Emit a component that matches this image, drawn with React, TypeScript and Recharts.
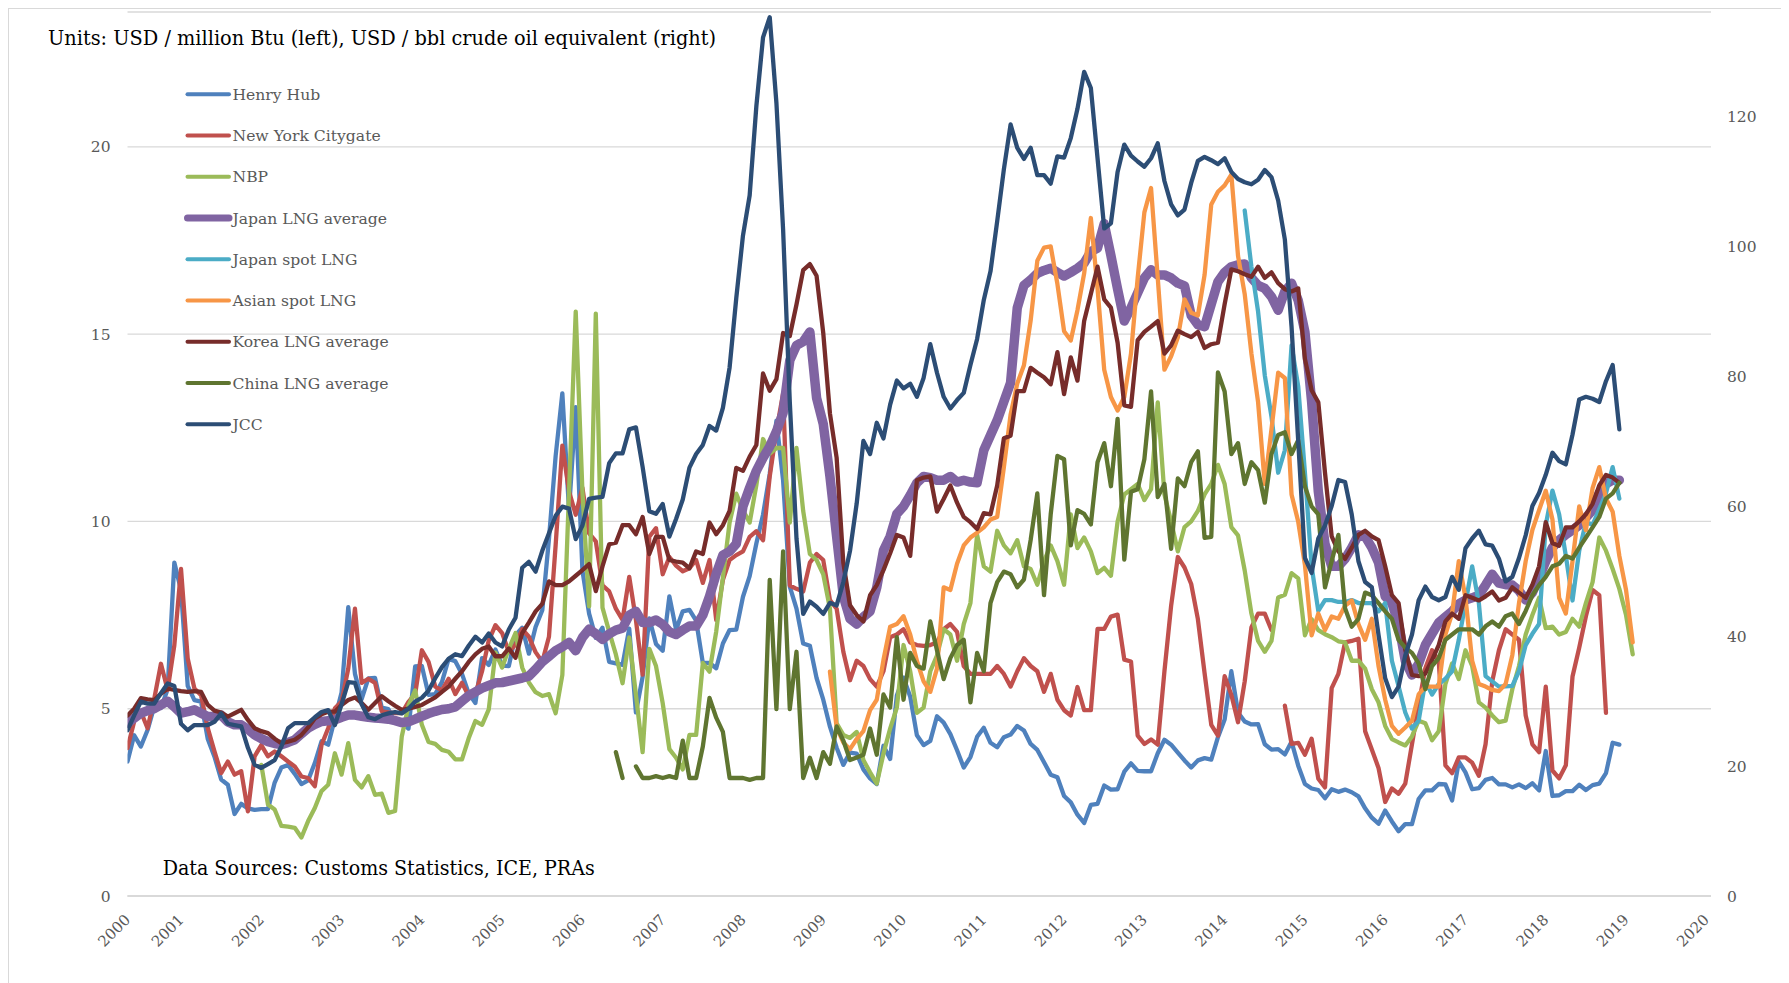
import React from "react";
import { LineChart, Line, XAxis, YAxis, CartesianGrid } from "recharts";

const FONT = "'DejaVu Serif', serif";

// x values are month indexes: 0 = Jan 2000, 4 = May 2000 (first data month)
const yearTickMonths = [4, 12, 24, 36, 48, 60, 72, 84, 96, 108, 120, 132, 144, 156, 168, 180, 192, 204, 216, 228, 240];
const yearTickLabels = ["2000", "2001", "2002", "2003", "2004", "2005", "2006", "2007", "2008", "2009", "2010", "2011", "2012", "2013", "2014", "2015", "2016", "2017", "2018", "2019", "2020"];
const leftTicks = [0, 5, 10, 15, 20];
const rightTicks = [0, 20, 40, 60, 80, 100, 120];

// USD / million Btu, from May 2000
const henryHub = [
  3.59, 4.29, 3.99, 4.43, 5.06, 5.02, 5.52, 8.9,
  8.17, 5.61, 5.23, 5.19, 4.19, 3.72, 3.11, 2.97, 2.19, 2.46, 2.34, 2.3,
  2.32, 2.32, 3.03, 3.43, 3.5, 3.26, 2.99, 3.09, 3.55, 4.13, 4.04, 4.74,
  5.43, 7.71, 5.93, 5.26, 5.81, 5.82, 5.03, 4.99, 4.62, 4.63, 4.47, 6.13,
  6.14, 5.37, 5.39, 5.71, 6.33, 6.27, 5.93, 5.41, 5.15, 6.35, 6.17, 6.58,
  6.15, 6.14, 6.96, 7.16, 6.47, 7.18, 7.63, 9.53, 11.75, 13.42, 10.3, 13.05,
  8.69, 7.54, 6.89, 7.16, 6.25, 6.21, 6.17, 7.14, 4.9, 5.85, 7.41, 6.73,
  6.55, 8.0, 7.11, 7.6, 7.64, 7.35, 6.22, 6.22, 6.08, 6.74, 7.1, 7.11,
  7.99, 8.54, 9.41, 10.18, 11.27, 12.69, 11.09, 8.26, 7.67, 6.74, 6.68, 5.82,
  5.24, 4.52, 3.96, 3.5, 3.83, 3.8, 3.38, 3.14, 2.99, 4.01, 3.66, 5.35,
  5.83, 5.32, 4.29, 4.03, 4.14, 4.8, 4.63, 4.32, 3.89, 3.43, 3.71, 4.25,
  4.49, 4.09, 3.97, 4.24, 4.31, 4.54, 4.42, 4.06, 3.9, 3.57, 3.24, 3.17,
  2.67, 2.5, 2.17, 1.95, 2.43, 2.46, 2.95, 2.84, 2.85, 3.32, 3.54, 3.34,
  3.33, 3.33, 3.81, 4.17, 4.04, 3.83, 3.62, 3.43, 3.62, 3.68, 3.64, 4.24,
  4.71, 6.0, 4.9, 4.66, 4.58, 4.59, 4.05, 3.91, 3.92, 3.78, 4.12, 3.48,
  2.99, 2.87, 2.83, 2.61, 2.85, 2.78, 2.84, 2.77, 2.66, 2.34, 2.09, 1.93,
  2.28, 1.99, 1.73, 1.92, 1.92, 2.59, 2.82, 2.82, 2.99, 2.98, 2.55, 3.59,
  3.3, 2.85, 2.88, 3.1, 3.15, 2.98, 2.98, 2.9, 2.98, 2.88, 3.01, 2.82,
  3.87, 2.67, 2.69, 2.8, 2.8, 2.97, 2.83, 2.96, 3.0, 3.28, 4.09, 4.04,
];

// from May 2000
const newYorkCitygate = [
  3.95, 4.66, 4.92, 4.48, 5.27, 6.2, 5.5, 6.69,
  8.73, 6.34, 5.54, 5.36, 4.48, 3.86, 3.28, 3.59, 3.24, 3.33, 2.26, 3.73,
  4.03, 3.73, 3.86, 3.73, 3.59, 3.46, 3.19, 3.15, 2.93, 4.03, 4.48, 5.01,
  5.19, 6.07, 7.67, 5.69, 5.8, 5.69, 4.93, 4.9, 4.88, 4.88, 5.18, 5.39,
  6.56, 6.25, 5.59, 5.49, 5.8, 5.39, 5.69, 5.34, 5.39, 6.0, 6.82, 7.23,
  7.02, 6.51, 6.71, 7.12, 6.92, 6.51, 6.25, 6.92, 9.37, 12.02, 10.8, 10.18,
  10.9, 9.68, 9.47, 8.29, 8.13, 7.67, 7.37, 8.52, 7.37, 5.91, 9.59, 9.82,
  8.59, 9.05, 8.82, 8.67, 8.75, 8.97, 8.36, 8.97, 7.37, 8.44, 8.97, 9.1,
  9.2, 9.59, 9.74, 9.5, 11.2, 12.42, 13.42, 8.29, 8.2, 8.13, 8.9, 9.13,
  8.97, 7.9, 7.67, 6.52, 5.76, 6.28, 6.14, 5.79, 5.59, 6.0, 6.91, 6.98,
  7.12, 6.77, 6.7, 6.68, 6.7, 6.77, 7.12, 7.26, 7.05, 6.14, 5.93, 5.93,
  5.93, 5.93, 6.14, 5.93, 5.59, 6.0, 6.35, 6.14, 6.0, 5.45, 5.93, 5.24,
  4.96, 4.82, 5.58, 4.96, 4.96, 7.13, 7.13, 7.46, 7.51, 6.31, 6.26, 4.28,
  4.06, 4.18, 4.04, 6.0, 7.75, 9.05, 8.77, 8.33, 7.39, 5.95, 4.57, 4.28,
  5.87, 5.37, 4.64, 5.73, 7.17, 7.54, 7.54, 7.1, null, 5.08, 4.06, 4.09,
  3.77, 4.2, 3.13, 2.9, 5.55, 5.93, 6.77, 6.81, 6.87, 4.4, 3.91, 3.42,
  2.51, 2.87, 2.73, 3.0, 4.05, 5.1, 6.08, 6.56, 6.28, 3.49, 3.28, 3.7,
  3.7, 3.56, 3.21, 4.05, 5.73, 6.56, 7.12, 6.98, 6.84, 4.82, 4.05, 3.84,
  5.59, 3.35, 3.14, 3.49, 5.86, 6.63, 7.47, 8.17, 8.03, 4.89,
];

// from Jan 2002
const nbp = [
  3.5, 2.44, 2.31, 1.87, 1.85, 1.82, 1.56, 2.0, 2.35, 2.8, 2.97, 3.81,
  3.24, 4.08, 3.1, 2.9, 3.2, 2.7, 2.73, 2.22, 2.27, 4.26, 5.08, 5.49,
  4.57, 4.11, 4.06, 3.9, 3.85, 3.65, 3.65, 4.21, 4.67, 4.57, 4.98, 6.5,
  6.1, 6.6, 7.02, 6.1, 5.7, 5.44, 5.34, 5.39, 4.88, 5.9, 10.8, 15.6,
  10.8, 7.73, 15.55, 7.7, 7.06, 6.45, 5.68, 6.9, 5.37, 3.84, 6.6, 6.14,
  5.15, 3.92, 3.69, 3.38, 4.3, 4.3, 6.22, 5.99, 7.06, 8.5, 9.97, 10.74,
  10.3, 9.97, 10.97, 12.2, 11.81, 11.96, 11.96, 9.97, 11.96, 10.28, 9.13, 8.97,
  8.59, 7.67, 4.61, 4.3, 4.22, 4.38, 3.63, 3.3, 3.0, 3.8, 4.47, 5.03,
  6.7, 6.0, 4.89, 5.03, 6.0, 6.42, 7.12, 6.98, 6.28, 7.26, 7.82, 9.64,
  8.8, 8.66, 9.75, 9.36, 9.15, 9.5, 8.8, 8.73, 8.31, 8.94, 9.36, 8.94,
  8.31, 10.19, 9.29, 9.57, 9.2, 8.62, 8.76, 8.55, 10.0, 10.72, 10.86, 11.0,
  10.57, 10.86, 13.18, 10.72, 10.0, 9.2, 9.85, 10.0, 10.28, 10.72, 11.0, 11.51,
  11.0, 9.85, 9.63, 8.69, 7.54, 6.81, 6.52, 6.81, 7.97, 8.04, 8.62, 8.48,
  6.96, 7.39, 7.1, 6.99, 6.91, 6.8, 6.77, 6.28, 6.28, 6.07, 5.52, 5.17,
  4.54, 4.19, 4.1, 4.02, 4.26, 4.68, 4.61, 4.16, 4.4, 5.66, 6.21, 5.79,
  6.56, 6.14, 5.17, 5.03, 4.82, 4.64, 4.68, 5.52, 6.14, 6.98, 7.5, 7.96,
  7.15, 7.19, 6.98, 7.05, 7.4, 7.19, 7.82, 8.38, 9.57, 9.22, 8.73, 8.2,
  7.5, 6.45,
];

// from May 2000
const japanLngAverage = [
  4.61, 4.75, 4.88, 4.95, 5.0, 5.1, 5.2, 5.05,
  4.88, 4.92, 4.97, 4.88, 4.79, 4.8, 4.83, 4.65, 4.57, 4.57, 4.45, 4.3,
  4.2, 4.12, 4.07, 4.04, 4.1, 4.17, 4.33, 4.48, 4.58, 4.66, 4.68, 4.7,
  4.77, 4.83, 4.83, 4.8, 4.77, 4.75, 4.74, 4.72, 4.68, 4.63, 4.65, 4.72,
  4.8, 4.87, 4.93, 4.98, 5.0, 5.05, 5.2, 5.35, 5.45, 5.55, 5.62, 5.69,
  5.7, 5.74, 5.78, 5.82, 5.87, 6.05, 6.25, 6.4, 6.55, 6.65, 6.77, 6.55,
  6.9, 7.12, 7.0, 6.85, 7.0, 7.1, 7.15, 7.5, 7.6, 7.3, 7.3, 7.37,
  7.25, 7.05, 6.98, 7.1, 7.21, 7.21, 7.5, 8.0, 8.6, 9.1, 9.2, 9.4,
  10.4, 10.9, 11.35, 11.7, 12.0, 12.4, 12.9, 14.3, 14.7, 14.8, 15.06, 13.3,
  12.6, 11.2, 9.6, 8.0, 7.4, 7.26, 7.45, 7.6, 8.24, 9.22, 9.6, 10.2,
  10.4, 10.7, 11.03, 11.2, 11.17, 11.1, 11.1, 11.2, 11.05, 11.1, 11.05, 11.03,
  11.9, 12.3, 12.7, 13.2, 13.7, 15.7, 16.3, 16.45, 16.62, 16.7, 16.76, 16.65,
  16.55, 16.65, 16.76, 16.9, 17.2, 17.3, 17.95, 17.1, 16.2, 15.35, 15.7, 16.1,
  16.5, 16.72, 16.58, 16.58, 16.5, 16.36, 16.29, 15.5, 15.25, 15.2, 15.8, 16.4,
  16.65, 16.8, 16.85, 16.87, 16.5, 16.3, 16.22, 16.0, 15.64, 16.14, 16.36, 15.9,
  15.06, 13.2, 10.8, 9.4, 8.8, 8.8, 9.0, 9.3, 9.64, 9.6, 9.3, 8.9,
  8.0, 7.82, 7.26, 6.28, 5.9, 6.2, 6.7, 7.0, 7.3, 7.45, 7.6, 7.8,
  7.9, 7.96, 8.03, 8.3, 8.59, 8.35, 8.31, 8.3, 8.15, 7.9, 8.1, 8.5,
  8.94, 9.3, 9.5, 9.65, 9.77, 9.9, 10.1, 10.3, 10.75, 11.0, 11.1, 11.1,
];

// from Apr 2014
const japanSpotLng = [
  18.3, 16.8, 15.6, 13.9, 12.8, 11.3, 11.9, 14.7, 13.6,
  11.3, 8.8, 7.61, 7.9, 7.9, 7.85, 7.85, 7.9, 7.82, 7.82, 7.82, 7.6,
  7.82, 6.28, 5.6, 4.9, 4.47, 4.68, 5.73, 5.38, 5.66, 5.8, 6.0, 6.84,
  7.82, 8.8, 7.82, 5.87, 5.73, 5.59, 5.6, 5.61, 6.0, 6.7, 7.0, 7.26,
  9.91, 10.82, 10.19, 9.08, 7.89, 9.22, 9.98, 9.91, 10.33, 10.75, 11.45, 10.61,
];

// from Feb 2009
const asianSpotLng = [
  5.99, 4.5, 4.1, 3.92, 4.19, 4.4, 4.96, 5.24, 6.3, 7.19, 7.26,
  7.47, 6.98, 6.28, 5.73, 5.45, 6.07, 8.24, 8.17, 8.87, 9.36, 9.57, 9.7,
  9.84, 10.05, 10.12, 11.45, 12.85, 13.68, 14.17, 15.36, 16.96, 17.31, 17.34, 16.34,
  15.08, 14.83, 15.64, 16.62, 18.1, 16.22, 14.05, 13.32, 12.96, 13.32, 14.48, 16.5,
  18.25, 18.9, 16.5, 14.05, 14.41, 14.91, 15.93, 15.57, 15.5, 16.58, 18.46, 18.8,
  18.97, 19.26, 17.09, 16.07, 14.48, 13.18, 11.0, 12.46, 13.97, 13.83, 10.72, 9.99,
  8.84, 6.96, 7.54, 7.1, 7.46, 7.4, 7.75, 7.89, 7.26, 6.84, 7.4, 6.14,
  5.24, 4.54, 4.33, 4.5, 4.68, 5.38, 5.59, 5.59, 5.59, 6.98, 7.54, 8.94,
  7.96, 6.28, 5.66, 5.59, 5.5, 5.47, 5.66, 6.43, 7.82, 8.94, 9.77, 10.3,
  10.82, 10.05, 7.96, 7.54, 8.94, 10.4, 9.77, 10.89, 11.45, 10.61, 10.26, 9.08,
  8.17, 6.77,
];

// from May 2000
const koreaLngAverage = [
  4.82, 5.0, 5.28, 5.25, 5.23, 5.4, 5.54, 5.5,
  5.47, 5.45, 5.47, 5.45, 5.1, 4.95, 4.9, 4.79, 4.88, 4.97, 4.7, 4.48,
  4.4, 4.35, 4.2, 4.08, 4.12, 4.17, 4.3, 4.5, 4.74, 4.85, 4.92, 4.92,
  5.1, 5.23, 5.3, 5.15, 4.97, 5.15, 5.33, 5.2, 5.08, 4.97, 5.0, 5.05,
  5.1, 5.2, 5.3, 5.45, 5.59, 5.8, 6.0, 6.25, 6.45, 6.6, 6.66, 6.4,
  6.4, 6.61, 6.36, 7.02, 7.3, 7.6, 7.8, 8.4, 8.3, 8.3, 8.4, 8.55,
  8.7, 8.86, 8.14, 8.8, 9.39, 9.43, 9.9, 9.9, 9.66, 10.12, 9.13, 9.59,
  9.59, 8.97, 8.93, 8.9, 8.75, 9.2, 9.13, 9.97, 9.66, 9.9, 10.28, 11.43,
  11.35, 11.73, 12.04, 13.95, 13.49, 13.8, 15.03, 14.95, 15.79, 16.71, 16.87, 16.56,
  15.03, 12.88, 11.7, 8.9, 7.76, 7.5, 7.33, 8.03, 8.3, 8.7, 9.15, 9.64,
  9.57, 9.08, 11.1, 11.17, 11.2, 10.26, 10.6, 10.96, 10.5, 10.12, 9.98, 9.8,
  10.22, 10.19, 10.96, 12.22, 12.29, 13.48, 13.48, 14.1, 13.97, 13.85, 13.66, 14.52,
  13.4, 14.38, 13.76, 15.35, 16.07, 16.8, 15.93, 15.71, 14.77, 13.1, 13.06, 14.84,
  15.06, 15.2, 15.35, 14.48, 14.7, 15.09, 15.0, 14.92, 15.06, 14.63, 14.73, 14.77,
  15.8, 16.73, 16.68, 16.6, 16.53, 16.8, 16.5, 16.65, 16.36, 16.2, 16.14, 16.22,
  14.34, 13.5, 13.18, 11.3, 9.6, 9.2, 9.0, 9.3, 9.64, 9.75, 9.6, 9.5,
  8.8, 8.03, 7.82, 6.57, 5.9, 5.87, 5.94, 6.3, 6.7, 7.33, 7.54, 7.4,
  8.03, 7.96, 7.89, 8.0, 8.13, 7.89, 7.96, 8.24, 8.1, 7.96, 8.31, 8.8,
  9.98, 9.42, 9.35, 9.84, 9.84, 10.0, 10.19, 10.47, 10.96, 11.24, 11.17, 11.03,
];

// from Jun 2006
const chinaLngAverage = [
  3.84, 3.15, null, 3.46, 3.15, 3.15, 3.2,
  3.15, 3.2, 3.15, 4.15, 3.15, 3.15, 3.99, 5.29, 4.76, 4.38, 3.15, 3.15,
  3.15, 3.1, 3.15, 3.15, 8.44, 4.99, 9.2, 4.99, 6.52, 3.15, 3.69, 3.15,
  3.84, 3.53, 4.53, 4.15, 3.63, 3.7, 3.77, 4.47, 3.77, 5.38, 5.03, 6.91,
  5.24, 6.49, 6.14, 6.07, 7.33, 6.56, 5.79, 6.35, 6.7, 6.84, 5.17, 6.49,
  6.0, 7.82, 8.38, 8.66, 8.59, 8.24, 8.45, 9.5, 10.75, 8.03, 10.19, 11.75,
  11.66, 9.36, 10.3, 10.2, 9.92, 11.58, 12.09, 10.94, 12.74, 8.98, 10.79, 10.86,
  11.66, 13.47, 10.65, 11.0, 9.27, 11.15, 10.94, 11.58, 11.87, 9.56, 9.59, 13.98,
  13.47, 11.8, 12.09, 11.0, 11.58, 11.37, 10.5, 11.8, 12.31, 12.38, 11.8, 12.17,
  10.94, 10.4, 10.19, 8.24, 8.94, 9.64, 7.68, 7.19, 7.4, 8.1, 8.03, 7.82,
  7.6, 7.4, 6.84, 6.63, 6.49, 6.21, 5.52, 6.14, 6.35, 6.84, 6.98, 7.12,
  7.12, 7.12, 6.98, 7.2, 7.33, 7.19, 7.47, 7.54, 7.26, 7.61, 8.03, 8.3,
  8.52, 8.8, 8.87, 9.08, 9.01, 9.3, 9.57, 9.84, 10.12, 10.61, 10.75, 11.03,
];

// USD / bbl, from May 2000
const jcc = [
  25.5, 27.8, 29.9, 29.6, 29.6, 31.2, 32.7, 32.3,
  26.5, 25.5, 26.3, 26.3, 26.3, 26.8, 28.1, 26.5, 26.3, 26.1, 22.8, 20.2,
  19.7, 20.3, 20.9, 23.0, 25.8, 26.6, 26.6, 26.6, 27.5, 28.3, 28.6, 26.3,
  29.5, 32.9, 32.8, 29.5, 27.5, 27.2, 27.8, 28.1, 28.3, 28.1, 28.8, 29.9,
  30.5, 31.6, 33.5, 35.2, 36.5, 37.2, 36.9, 38.5, 39.9, 39.0, 40.4, 39.0,
  38.4, 41.0, 42.8, 50.5, 51.4, 49.9, 53.1, 55.8, 58.5, 59.9, 59.6, 54.9,
  57.0, 61.1, 61.3, 61.4, 66.6, 68.1, 68.1, 71.8, 72.1, 66.0, 59.2, 58.8,
  60.3, 55.3, 58.0, 61.0, 65.9, 68.0, 69.4, 72.3, 71.6, 75.1, 81.3, 92.0,
  101.6, 107.8, 121.5, 132.1, 135.2, 122.0, 102.5, 76.0, 55.0, 43.4, 45.3, 44.5,
  43.4, 45.1, 44.7, 48.3, 53.1, 60.4, 70.0, 68.0, 72.8, 70.4, 75.6, 79.3,
  78.1, 78.8, 76.8, 79.7, 84.9, 80.5, 76.8, 75.0, 76.3, 77.4, 81.7, 85.7,
  91.7, 96.1, 103.8, 111.8, 118.7, 115.1, 113.4, 115.1, 110.9, 110.9, 109.6, 113.8,
  113.6, 116.6, 121.1, 126.8, 124.3, 113.5, 102.7, 103.5, 111.4, 115.6, 113.9, 113.0,
  112.2, 113.5, 115.8, 110.0, 106.4, 104.7, 105.6, 109.7, 113.1, 113.7, 113.2, 112.6,
  113.5, 111.4, 110.3, 109.8, 109.5, 110.2, 111.7, 110.6, 107.0, 101.0, 87.6, 70.0,
  52.0, 49.7, 55.0, 57.0, 60.0, 64.0, 63.7, 58.7, 51.5, 48.3, 47.5, 40.2,
  33.5, 30.6, 32.2, 37.0, 40.2, 45.5, 47.6, 46.0, 45.5, 46.0, 49.1, 47.1,
  53.5, 55.0, 56.2, 54.1, 53.9, 51.9, 48.4, 49.1, 52.0, 55.5, 60.0, 62.0,
  64.8, 68.2, 66.9, 66.4, 71.0, 76.4, 76.8, 76.5, 76.0, 79.2, 81.7, 71.8,
];

type Series = {
  key: string;
  name: string;
  color: string;
  start: number;
  values: (number | null)[];
  width: number;
  legendWidth: number;
  axis: "left" | "right";
};

const seriesList: Series[] = [
  { key: "hh", name: "Henry Hub", color: "#4F81BD", start: 4, values: henryHub, width: 4.3, legendWidth: 4, axis: "left" },
  { key: "nyc", name: "New York Citygate", color: "#C0504D", start: 4, values: newYorkCitygate, width: 4.3, legendWidth: 4, axis: "left" },
  { key: "nbp", name: "NBP", color: "#9BBB59", start: 24, values: nbp, width: 4.3, legendWidth: 4, axis: "left" },
  { key: "jpavg", name: "Japan LNG average", color: "#8064A2", start: 4, values: japanLngAverage, width: 9.5, legendWidth: 7, axis: "left" },
  { key: "jpspot", name: "Japan spot LNG", color: "#4BACC6", start: 171, values: japanSpotLng, width: 4.3, legendWidth: 4, axis: "left" },
  { key: "asia", name: "Asian spot LNG", color: "#F79646", start: 109, values: asianSpotLng, width: 4.3, legendWidth: 4, axis: "left" },
  { key: "korea", name: "Korea LNG average", color: "#772C2A", start: 4, values: koreaLngAverage, width: 4.3, legendWidth: 4, axis: "left" },
  { key: "china", name: "China LNG average", color: "#5F7530", start: 77, values: chinaLngAverage, width: 4.3, legendWidth: 4, axis: "left" },
  { key: "jcc", name: "JCC", color: "#2C4D75", start: 4, values: jcc, width: 4.3, legendWidth: 4, axis: "right" },
];

const FIRST_MONTH = 4;
const LAST_MONTH = 229;

const rows: Record<string, number | null>[] = [];
for (let m = FIRST_MONTH; m <= LAST_MONTH; m++) {
  const row: Record<string, number | null> = { m };
  for (const s of seriesList) {
    const i = m - s.start;
    row[s.key] = i >= 0 && i < s.values.length ? s.values[i] : null;
  }
  rows.push(row);
}

const YearTick = (props: any) => {
  const { x, y, payload } = props;
  const idx = yearTickMonths.indexOf(payload.value);
  const label = idx >= 0 ? yearTickLabels[idx] : "";
  return (
    <text
      x={x}
      y={y}
      dy="0.35em"
      textAnchor="end"
      transform={`rotate(-45 ${x} ${y})`}
      fill="#595959"
      fontSize={15}
      fontFamily={FONT}
    >
      {label}
    </text>
  );
};

const CHART_W = 1777;
const CHART_H = 972;

export default function App() {
  return (
    <div
      style={{
        position: "relative",
        width: 1779,
        height: 990,
        boxSizing: "border-box",
        border: "1px solid #d9d9d9",
        background: "#ffffff",
      }}
    >
      <style>{`html,body{overflow:hidden;}`}</style>
      <LineChart
        width={CHART_W}
        height={CHART_H}
        data={rows}
        margin={{ top: 3, right: 15, bottom: 25, left: 58.5 }}
      >
        <CartesianGrid yAxisId="left" vertical={false} stroke="#d9d9d9" strokeWidth={1.4} />
        <XAxis
          dataKey="m"
          type="number"
          domain={[4, 240.7]}
          allowDataOverflow
          ticks={yearTickMonths}
          interval={0}
          tick={YearTick}
          tickLine={false}
          tickMargin={15}
          axisLine={{ stroke: "#d9d9d9", strokeWidth: 2 }}
          height={60}
        />
        <YAxis
          yAxisId="left"
          orientation="left"
          domain={[0, 23.6]}
          allowDataOverflow
          ticks={leftTicks}
          interval={0}
          width={60}
          axisLine={false}
          tickLine={false}
          tickMargin={11}
          tick={{ fill: "#595959", fontSize: 15.5, fontFamily: FONT }}
        />
        <YAxis
          yAxisId="right"
          orientation="right"
          domain={[0, 136]}
          allowDataOverflow
          ticks={rightTicks}
          interval={0}
          width={60}
          axisLine={false}
          tickLine={false}
          tickMargin={10}
          tick={{ fill: "#595959", fontSize: 15.5, fontFamily: FONT, textAnchor: "start" }}
        />
        {seriesList.map((s) => (
          <Line
            key={s.key}
            yAxisId={s.axis}
            dataKey={s.key}
            name={s.name}
            type="linear"
            stroke={s.color}
            strokeWidth={s.width}
            strokeLinejoin="round"
            strokeLinecap="round"
            dot={false}
            activeDot={false}
            connectNulls={false}
            isAnimationActive={false}
          />
        ))}
      </LineChart>
      <svg
        width={CHART_W}
        height={CHART_H}
        style={{ position: "absolute", left: 0, top: 0, pointerEvents: "none" }}
      >
        <text
          x={39}
          y={36}
          fontFamily={FONT}
          fontSize={20}
          fill="#000000"
          textLength={668}
          lengthAdjust="spacingAndGlyphs"
        >
          Units: USD / million Btu (left), USD / bbl crude oil equivalent (right)
        </text>
        {seriesList.map((s, i) => {
          const cy = 85.3 + i * 41.25;
          return (
            <g key={s.key}>
              <line
                x1={178.5}
                x2={220}
                y1={cy}
                y2={cy}
                stroke={s.color}
                strokeWidth={s.legendWidth}
                strokeLinecap="round"
              />
              <text
                x={223.5}
                y={cy}
                dy="0.36em"
                fontFamily={FONT}
                fontSize={15.6}
                fill="#595959"
              >
                {s.name}
              </text>
            </g>
          );
        })}
        <text
          x={153.7}
          y={866}
          fontFamily={FONT}
          fontSize={20}
          fill="#000000"
          textLength={432}
          lengthAdjust="spacingAndGlyphs"
        >
          Data Sources: Customs Statistics, ICE, PRAs
        </text>
      </svg>
    </div>
  );
}
